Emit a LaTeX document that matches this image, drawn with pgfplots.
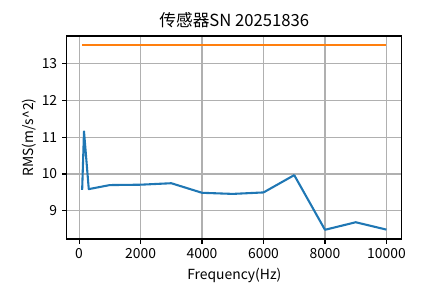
\documentclass[border=0pt]{standalone}
\usepackage{fontspec}
\setmainfont{Noto Sans CJK SC}
\usepackage{pgfplots}
\pgfplotsset{compat=1.18}
\definecolor{mplblue}{HTML}{1F77B4}
\definecolor{mplorange}{HTML}{FF7F0E}
\definecolor{gridgray}{HTML}{B0B0B0}
\begin{document}
\begin{tikzpicture}
\useasboundingbox (-48.2pt,-43.2pt) rectangle (272.2pt,172.1pt);
\begin{axis}[
  at={(0,0)}, anchor=south west,
  scale only axis, width=241pt, height=146.2pt,
  xmin=-395, xmax=10495, ymin=8.234, ymax=13.75,
  xtick={0,2000,4000,6000,8000,10000},
  ytick={9,10,11,12,13},
  scaled x ticks=false,
  /pgf/number format/1000 sep={},
  /pgf/number format/assume math mode=true,
  xtick pos=left, ytick pos=left,
  tick align=outside,
  major tick length=3.5pt,
  tick style={black, line width=0.8pt},
  axis line style={black, line width=0.8pt},
  grid=major,
  grid style={gridgray, line width=0.8pt},
  tick label style={font=\fontsize{10}{12}\selectfont},
  label style={font=\fontsize{10}{12}\selectfont},
  title style={font=\fontsize{12}{14}\selectfont, yshift=-4pt},
  ylabel shift=-3pt,
  title={传感器SN 20251836},
  xlabel={Frequency(Hz)},
  ylabel={RMS(m/s\textasciicircum 2)},
]
\addplot[mplblue, line width=1.5pt, line join=round] coordinates {
 (100,9.57) (160,11.16) (315,9.59) (1000,9.70) (2000,9.71) (3000,9.75)
 (4000,9.49) (5000,9.46) (6000,9.50) (7000,9.97) (8000,8.485) (9000,8.69) (10000,8.49)
};
\addplot[mplorange, line width=1.5pt] coordinates {
 (100,13.5) (10000,13.5)
};
\end{axis}
\end{tikzpicture}
\end{document}
